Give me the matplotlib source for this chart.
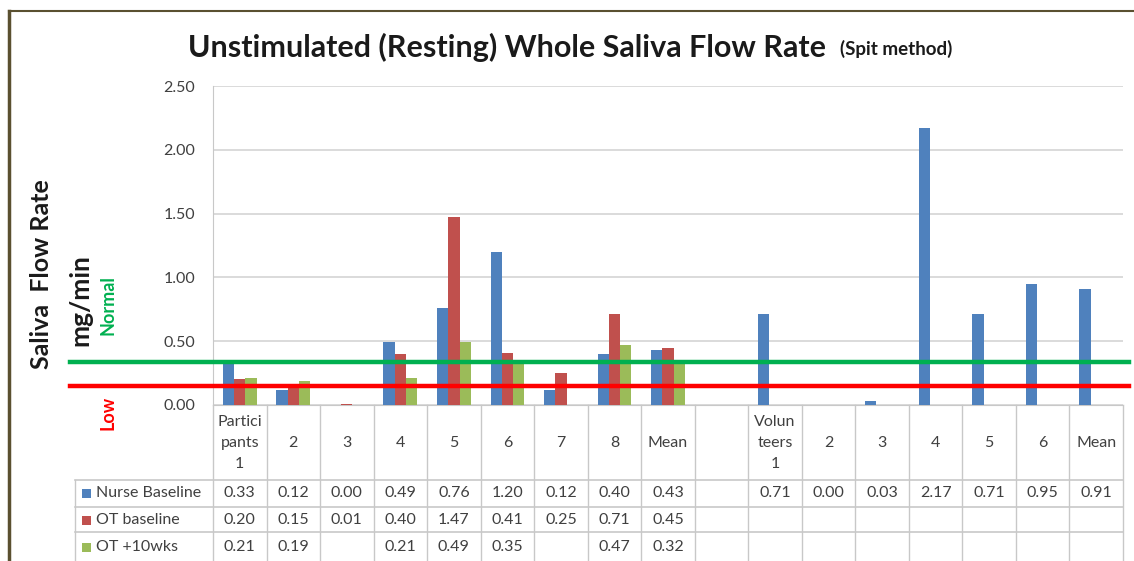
# Unstimulated whole saliva flow rate, Excel-style bar chart with data table

import matplotlib.pyplot as plt
import numpy as np
from matplotlib.lines import Line2D
from matplotlib.patches import Rectangle

plt.rcParams['font.family'] = ['Lato', 'DejaVu Sans']

categories = ["Partici\npants\n1", "2", "3", "4", "5", "6", "7", "8", "Mean", "",
              "Volun\nteers\n1", "2", "3", "4", "5", "6", "Mean"]
nan = np.nan
nurse_baseline = [0.33, 0.12, 0.00, 0.49, 0.76, 1.20, 0.12, 0.40, 0.43, nan,
                  0.71, 0.00, 0.03, 2.17, 0.71, 0.95, 0.91]
ot_baseline = [0.20, 0.15, 0.01, 0.40, 1.47, 0.41, 0.25, 0.71, 0.45, nan,
               nan, nan, nan, nan, nan, nan, nan]
ot_10wks = [0.21, 0.19, nan, 0.21, 0.49, 0.35, nan, 0.47, 0.32, nan,
            nan, nan, nan, nan, nan, nan, nan]
series_names = ["Nurse Baseline", "OT baseline", "OT +10wks"]
series_colors = ["#4F81BD", "#C0504D", "#9BBB59"]
normal_level = 0.34
low_level = 0.15

W, H = 1134, 561
fig = plt.figure(figsize=(W / 100, H / 100), dpi=100)


def fx(px):
    return px / W


def fy(py):
    return 1 - py / H


# plot area in pixel coords
left, right, top, bottom = 213, 1123, 86, 405
ax = fig.add_axes([fx(left), fy(bottom), fx(right - left), (bottom - top) / H])

n = len(categories)
x = np.arange(n)
width = 0.21
all_series = [nurse_baseline, ot_baseline, ot_10wks]
for i, (vals, col) in enumerate(zip(all_series, series_colors)):
    ax.bar(x + (i - 1) * width, vals, width, color=col, zorder=3)

txt_col = "#404040"
fs = 11.5
ax.set_xlim(-0.5, n - 0.5)
ax.set_ylim(0, 2.5)
ax.set_yticks(np.arange(0, 2.51, 0.5))
ax.set_yticklabels([f"{v:.2f}" for v in np.arange(0, 2.51, 0.5)],
                   fontsize=fs, color=txt_col)
ax.tick_params(axis='y', length=0, pad=13)
ax.set_xticks([])
ax.grid(axis='y', color="#D4D4D4", linewidth=1.2, zorder=0)
for s in ["top", "right"]:
    ax.spines[s].set_visible(False)
ax.spines["left"].set_color("#C8C8C8")
ax.spines["bottom"].set_color("#C8C8C8")

# normal / low reference lines, running past the plot area
for level, col in [(normal_level, "#00B050"), (low_level, "#FF0000")]:
    ypix = bottom - (bottom - top) * level / 2.5
    fig.add_artist(Line2D([fx(70), fx(1129)], [fy(ypix), fy(ypix)],
                          color=col, linewidth=3.2, zorder=10))

# data table
grid_col = "#C8C8C8"
col_w = (right - left) / n
row_lines = [405, 480, 507, 532]
for k in range(n + 1):
    xp = left + k * col_w
    fig.add_artist(Line2D([fx(xp), fx(xp)], [fy(405), fy(561)], color=grid_col, linewidth=1))
fig.add_artist(Line2D([fx(75), fx(75)], [fy(480), fy(561)], color=grid_col, linewidth=1))
for yp in row_lines[1:]:
    fig.add_artist(Line2D([fx(75), fx(right)], [fy(yp), fy(yp)], color=grid_col, linewidth=1.2))

for k, lab in enumerate(categories):
    fig.text(fx(left + (k + 0.5) * col_w), fy(443), lab, ha='center', va='center',
             fontsize=fs, color=txt_col, linespacing=1.6)

row_centers = [493, 520, 547]
for vals, name, col, yc in zip(all_series, series_names, series_colors, row_centers):
    fig.add_artist(Rectangle((fx(82), fy(yc + 4.5)), 9 / W, 9 / H,
                             facecolor=col, edgecolor='none'))
    fig.text(fx(96), fy(yc), name, ha='left', va='center', fontsize=fs, color=txt_col)
    for k, v in enumerate(vals):
        if not np.isnan(v):
            fig.text(fx(left + (k + 0.5) * col_w), fy(yc), f"{v:.2f}", ha='center',
                     va='center', fontsize=fs, color=txt_col)

# titles and side labels
fig.text(fx(507), fy(47), "Unstimulated (Resting) Whole Saliva Flow Rate", ha='center',
         va='center', fontsize=22, fontweight='bold', color="#1a1a1a")
fig.text(fx(840), fy(49), "(Spit method)", ha='left', va='center', fontsize=13.5,
         fontweight='bold', color="#1a1a1a")
fig.text(fx(42), fy(274), "Saliva  Flow Rate", rotation=90, ha='center', va='center',
         fontsize=18, fontweight='bold', color="#1a1a1a")
fig.text(fx(80), fy(300), "mg/min", rotation=90, ha='center', va='center',
         fontsize=19, fontweight='bold', color="#1a1a1a")
fig.text(fx(108), fy(305), "Normal", rotation=90, ha='center', va='center',
         fontsize=13, fontweight='bold', color="#00B050")
fig.text(fx(108), fy(413), "Low", rotation=90, ha='center', va='center',
         fontsize=13, fontweight='bold', color="#FF0000")

# outer frame of the screenshot
fig.add_artist(Line2D([fx(9), fx(9)], [fy(11), fy(561)], color="#5a5030", linewidth=2.5))
fig.add_artist(Line2D([fx(9), fx(1134)], [fy(11), fy(11)], color="#5a5030", linewidth=1.5))

fig.savefig("out.png", dpi=100)
